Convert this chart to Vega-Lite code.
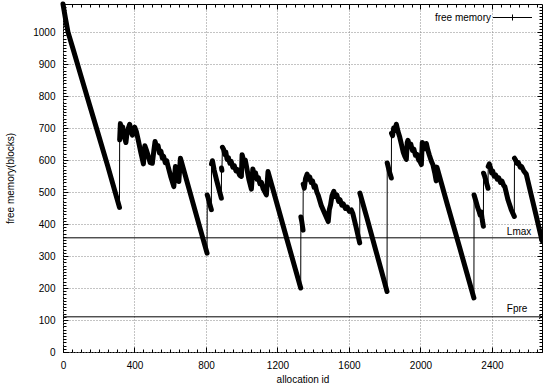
{
  "$schema": "https://vega.github.io/schema/vega-lite/v6.json",
  "width": 479,
  "height": 348,
  "autosize": {"type": "none"},
  "padding": {"left": 63, "top": 4, "right": 1, "bottom": 35},
  "background": "white",
  "config": {
    "font": "Liberation Sans",
    "view": {"stroke": "black", "strokeWidth": 1},
    "axis": {"domain": false, "labelFont": "Liberation Sans", "labelFontSize": 10, "labelColor": "black", "titleFont": "Liberation Sans", "titleFontSize": 10, "titleFontWeight": "normal", "titleColor": "black", "tickColor": "black", "tickWidth": 1, "gridColor": "#888", "gridDash": [1, 2], "gridWidth": 1, "gridOpacity": 1, "labelFlush": false, "format": "d"}
  },
  "datasets": {
    "mem": [
      {"x":0,"y":1088,"s":0},{"x":6,"y":1068,"s":0},{"x":14,"y":1042,"s":0},{"x":28,"y":1000,"s":0},{"x":60,"y":940,"s":0},{"x":100,"y":864,"s":0},{"x":150,"y":770,"s":0},{"x":200,"y":676,"s":0},{"x":250,"y":582,"s":0},{"x":300,"y":484,"s":0},{"x":316,"y":452,"s":0},
      {"x":317,"y":663,"s":1},{"x":321,"y":714,"s":1},{"x":328,"y":690,"s":1},{"x":334,"y":704,"s":1},{"x":342,"y":676,"s":1},{"x":352,"y":655,"s":1},{"x":358,"y":684,"s":1},{"x":366,"y":700,"s":1},{"x":373,"y":712,"s":1},{"x":381,"y":688,"s":1},{"x":388,"y":678,"s":1},{"x":395,"y":696,"s":1},{"x":401,"y":703,"s":1},{"x":410,"y":690,"s":1},{"x":422,"y":660,"s":1},{"x":436,"y":622,"s":1},{"x":450,"y":588,"s":1},{"x":458,"y":645,"s":1},{"x":466,"y":632,"s":1},{"x":476,"y":614,"s":1},{"x":488,"y":592,"s":1},{"x":500,"y":590,"s":1},{"x":508,"y":628,"s":1},{"x":515,"y":658,"s":1},{"x":524,"y":640,"s":1},{"x":532,"y":645,"s":1},{"x":540,"y":622,"s":1},{"x":548,"y":628,"s":1},{"x":556,"y":606,"s":1},{"x":563,"y":612,"s":1},{"x":572,"y":592,"s":1},{"x":580,"y":598,"s":1},{"x":588,"y":580,"s":1},{"x":604,"y":546,"s":1},{"x":620,"y":517,"s":1},{"x":629,"y":580,"s":1},{"x":638,"y":556,"s":1},{"x":648,"y":533,"s":1},{"x":657,"y":606,"s":1},{"x":700,"y":520,"s":1},{"x":750,"y":420,"s":1},{"x":806,"y":309,"s":1},
      {"x":807,"y":491,"s":2},{"x":812,"y":482,"s":2},{"x":820,"y":465,"s":2},{"x":830,"y":445,"s":2},
      {"x":831,"y":588,"s":3},{"x":836,"y":598,"s":3},{"x":846,"y":568,"s":3},{"x":860,"y":536,"s":3},{"x":874,"y":506,"s":3},{"x":886,"y":481,"s":3},
      {"x":887,"y":575,"s":4},{"x":889,"y":568,"s":4},
      {"x":892,"y":640,"s":5},{"x":898,"y":634,"s":5},{"x":905,"y":618,"s":5},{"x":911,"y":625,"s":5},{"x":918,"y":602,"s":5},{"x":925,"y":608,"s":5},{"x":934,"y":590,"s":5},{"x":941,"y":596,"s":5},{"x":950,"y":578,"s":5},{"x":958,"y":583,"s":5},{"x":968,"y":566,"s":5},{"x":976,"y":570,"s":5},{"x":988,"y":553,"s":5},{"x":998,"y":549,"s":5},{"x":1002,"y":617,"s":5},{"x":1012,"y":596,"s":5},{"x":1020,"y":600,"s":5},{"x":1030,"y":570,"s":5},{"x":1040,"y":540,"s":5},{"x":1054,"y":509,"s":5},{"x":1062,"y":572,"s":5},{"x":1070,"y":556,"s":5},{"x":1077,"y":560,"s":5},{"x":1086,"y":540,"s":5},{"x":1093,"y":545,"s":5},{"x":1102,"y":526,"s":5},{"x":1110,"y":530,"s":5},{"x":1120,"y":510,"s":5},{"x":1130,"y":500,"s":5},{"x":1138,"y":491,"s":5},{"x":1147,"y":564,"s":5},{"x":1200,"y":458,"s":5},{"x":1250,"y":358,"s":5},{"x":1300,"y":259,"s":5},{"x":1330,"y":200,"s":5},
      {"x":1331,"y":422,"s":6},{"x":1336,"y":408,"s":6},{"x":1343,"y":381,"s":6},
      {"x":1344,"y":525,"s":7},{"x":1350,"y":512,"s":7},{"x":1357,"y":542,"s":7},{"x":1366,"y":556,"s":7},{"x":1374,"y":540,"s":7},{"x":1380,"y":548,"s":7},{"x":1389,"y":530,"s":7},{"x":1396,"y":535,"s":7},{"x":1405,"y":515,"s":7},{"x":1412,"y":520,"s":7},{"x":1420,"y":500,"s":7},{"x":1428,"y":490,"s":7},{"x":1445,"y":458,"s":7},{"x":1465,"y":432,"s":7},{"x":1484,"y":408,"s":7},{"x":1490,"y":445,"s":7},{"x":1497,"y":460,"s":7},{"x":1505,"y":488,"s":7},{"x":1515,"y":502,"s":7},{"x":1525,"y":486,"s":7},{"x":1532,"y":491,"s":7},{"x":1542,"y":471,"s":7},{"x":1550,"y":476,"s":7},{"x":1560,"y":459,"s":7},{"x":1568,"y":463,"s":7},{"x":1580,"y":449,"s":7},{"x":1590,"y":453,"s":7},{"x":1602,"y":440,"s":7},{"x":1613,"y":444,"s":7},{"x":1622,"y":432,"s":7},{"x":1640,"y":390,"s":7},{"x":1660,"y":341,"s":7},
      {"x":1661,"y":497,"s":8},{"x":1700,"y":420,"s":8},{"x":1750,"y":318,"s":8},{"x":1800,"y":216,"s":8},{"x":1813,"y":189,"s":8},
      {"x":1814,"y":591,"s":9},{"x":1825,"y":566,"s":9},{"x":1837,"y":544,"s":9},
      {"x":1838,"y":684,"s":10},{"x":1844,"y":676,"s":10},{"x":1850,"y":700,"s":10},{"x":1856,"y":692,"s":10},{"x":1865,"y":712,"s":10},{"x":1874,"y":690,"s":10},{"x":1884,"y":672,"s":10},{"x":1894,"y":648,"s":10},{"x":1904,"y":624,"s":10},{"x":1912,"y":612,"s":10},{"x":1921,"y":602,"s":10},{"x":1926,"y":655,"s":10},{"x":1930,"y":662,"s":10},{"x":1938,"y":645,"s":10},{"x":1946,"y":650,"s":10},{"x":1955,"y":630,"s":10},{"x":1963,"y":634,"s":10},{"x":1972,"y":615,"s":10},{"x":1980,"y":618,"s":10},{"x":1990,"y":600,"s":10},{"x":1998,"y":595,"s":10},{"x":2005,"y":586,"s":10},{"x":2010,"y":655,"s":10},{"x":2018,"y":650,"s":10},{"x":2026,"y":636,"s":10},{"x":2033,"y":652,"s":10},{"x":2042,"y":630,"s":10},{"x":2050,"y":615,"s":10},{"x":2060,"y":598,"s":10},{"x":2070,"y":585,"s":10},{"x":2080,"y":560,"s":10},{"x":2088,"y":535,"s":10},{"x":2092,"y":578,"s":10},{"x":2150,"y":462,"s":10},{"x":2220,"y":325,"s":10},{"x":2299,"y":169,"s":10},
      {"x":2300,"y":491,"s":11},{"x":2310,"y":472,"s":11},{"x":2320,"y":452,"s":11},{"x":2328,"y":440,"s":11},{"x":2334,"y":428,"s":11},{"x":2340,"y":438,"s":11},{"x":2346,"y":412,"s":11},{"x":2352,"y":393,"s":11},
      {"x":2353,"y":559,"s":12},{"x":2360,"y":548,"s":12},{"x":2368,"y":532,"s":12},{"x":2378,"y":512,"s":12},
      {"x":2379,"y":580,"s":13},{"x":2385,"y":588,"s":13},{"x":2392,"y":575,"s":13},{"x":2398,"y":560,"s":13},{"x":2404,"y":566,"s":13},{"x":2412,"y":550,"s":13},{"x":2420,"y":554,"s":13},{"x":2430,"y":540,"s":13},{"x":2438,"y":544,"s":13},{"x":2448,"y":530,"s":13},{"x":2456,"y":534,"s":13},{"x":2466,"y":520,"s":13},{"x":2472,"y":517,"s":13},{"x":2490,"y":475,"s":13},{"x":2508,"y":445,"s":13},{"x":2525,"y":424,"s":13},
      {"x":2526,"y":606,"s":14},{"x":2532,"y":600,"s":14},{"x":2540,"y":590,"s":14},{"x":2548,"y":592,"s":14},{"x":2558,"y":578,"s":14},{"x":2566,"y":580,"s":14},{"x":2578,"y":566,"s":14},{"x":2592,"y":556,"s":14},{"x":2620,"y":490,"s":14},{"x":2650,"y":420,"s":14},{"x":2680,"y":348,"s":14}
    ],
    "lev": [{"name": "Lmax", "level": 357}, {"name": "Fpre", "level": 110}]
  },
  "layer": [
    {
      "data": {"name": "mem"},
      "mark": {"type": "line", "strokeWidth": 1, "clip": false},
      "encoding": {
        "x": {"field": "x", "type": "quantitative", "scale": {"domain": [0, 2680], "nice": false}, "axis": {"orient": "bottom", "values": [0, 400, 800, 1200, 1600, 2000, 2400], "ticks": false, "labelPadding": 8, "grid": true, "title": "allocation id", "titlePadding": 4}},
        "y": {"field": "y", "type": "quantitative", "scale": {"domain": [0, 1088], "nice": false}, "axis": {"orient": "left", "values": [0, 100, 200, 300, 400, 500, 600, 700, 800, 900, 1000], "ticks": false, "labelPadding": 8, "grid": true, "title": "free memory(blocks)", "titlePadding": 17}},
        "stroke": {"datum": "free memory", "type": "nominal", "scale": {"range": ["black"]}, "legend": {"orient": "top-right", "offset": 8, "padding": 0, "title": null, "symbolType": "M-3.9,0H3.9M0,-0.6V0.6", "symbolSize": 100, "symbolStrokeWidth": 1, "symbolStrokeColor": "black", "labelFontSize": 10, "labelFont": "Liberation Sans", "labelColor": "black", "labelAlign": "right", "labelOffset": -27}}
      }
    },
    {
      "data": {"name": "mem"},
      "mark": {"type": "line", "strokeWidth": 5, "color": "black", "strokeJoin": "round", "strokeCap": "round", "clip": false},
      "encoding": {
        "x": {"field": "x", "type": "quantitative", "scale": {"domain": [0, 2680], "nice": false}, "axis": {"orient": "bottom", "values": [0, 400, 800, 1200, 1600, 2000, 2400], "labels": false, "grid": false, "tickSize": 5, "offset": -5, "title": null}},
        "y": {"field": "y", "type": "quantitative", "scale": {"domain": [0, 1088], "nice": false}, "axis": {"orient": "left", "values": [0, 100, 200, 300, 400, 500, 600, 700, 800, 900, 1000], "labels": false, "grid": false, "tickSize": 5, "offset": -5, "title": null}},
        "detail": {"field": "s"}
      }
    },
    {
      "data": {"name": "lev"},
      "mark": {"type": "rule", "color": "black", "strokeWidth": 1},
      "encoding": {
        "y": {"field": "level", "type": "quantitative", "scale": {"domain": [0, 1088], "nice": false}, "axis": {"orient": "left", "tickCount": 109, "labels": false, "grid": false, "tickSize": 3, "offset": -3, "title": null}},
        "x": {"datum": 0, "type": "quantitative", "scale": {"domain": [0, 2680], "nice": false}, "axis": {"orient": "bottom", "tickCount": 54, "labels": false, "grid": false, "tickSize": 3, "offset": -3, "title": null}},
        "x2": {"datum": 2680}
      }
    },
    {
      "data": {"name": "lev"},
      "mark": {"type": "point", "shape": "M-1,-0.6L0,0L-1,0.6", "filled": false, "stroke": "black", "strokeWidth": 1, "size": 36, "opacity": 1},
      "encoding": {
        "y": {"field": "level", "type": "quantitative", "scale": {"domain": [0, 1088], "nice": false}, "axis": {"orient": "right", "values": [0, 100, 200, 300, 400, 500, 600, 700, 800, 900, 1000], "labels": false, "grid": false, "tickSize": 5, "offset": -5, "title": null}},
        "x": {"datum": 2680, "type": "quantitative", "scale": {"domain": [0, 2680], "nice": false}, "axis": {"orient": "top", "values": [0, 400, 800, 1200, 1600, 2000, 2400], "labels": false, "grid": false, "tickSize": 5, "offset": -5, "title": null}}
      }
    },
    {
      "data": {"name": "lev"},
      "transform": [{"filter": "datum.name == 'Lmax'"}],
      "mark": {"type": "text", "align": "right", "baseline": "bottom", "dy": -1, "fontSize": 10, "font": "Liberation Sans", "color": "black"},
      "encoding": {
        "x": {"datum": 2620, "type": "quantitative", "scale": {"domain": [0, 2680], "nice": false}, "axis": {"orient": "top", "tickCount": 54, "labels": false, "grid": false, "tickSize": 3, "offset": -3, "title": null}},
        "y": {"field": "level", "type": "quantitative", "scale": {"domain": [0, 1088], "nice": false}, "axis": {"orient": "right", "tickCount": 109, "labels": false, "grid": false, "tickSize": 3, "offset": -3, "title": null}},
        "text": {"field": "name"}
      }
    },
    {
      "data": {"name": "lev"},
      "transform": [{"filter": "datum.name == 'Fpre'"}],
      "mark": {"type": "text", "align": "right", "baseline": "bottom", "dy": -3, "fontSize": 10, "font": "Liberation Sans", "color": "black"},
      "encoding": {
        "x": {"datum": 2598, "type": "quantitative", "scale": {"domain": [0, 2680], "nice": false}, "axis": null},
        "y": {"field": "level", "type": "quantitative", "scale": {"domain": [0, 1088], "nice": false}, "axis": null},
        "text": {"field": "name"}
      }
    }
  ],
  "resolve": {"axis": {"x": "independent", "y": "independent"}}
}
